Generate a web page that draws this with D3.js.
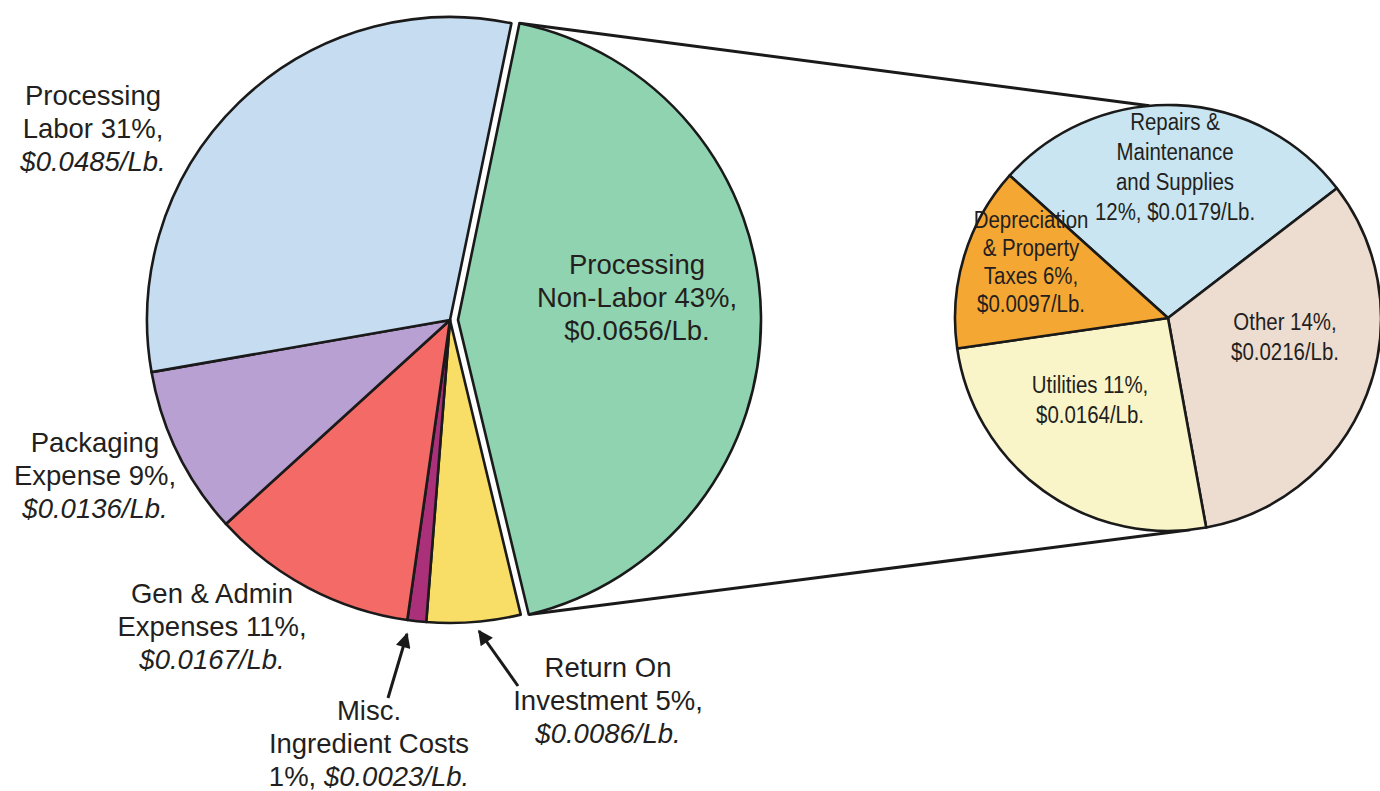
<!DOCTYPE html>
<html>
<head>
<meta charset="utf-8">
<script src="https://cdn.jsdelivr.net/npm/d3@7"></script>
<style>
  body { margin: 0; background: #fff; }
  svg { display: block; }
</style>
</head>
<body>
<svg id="chart" width="1380" height="791"></svg>
<script>
// main pie, clockwise starting with the pulled-out slice
var mainNames = ["Processing\nNon-Labor", "Return On\nInvestment", "Misc.\nIngredient Costs",
                 "Gen & Admin\nExpenses", "Packaging\nExpense", "Processing\nLabor"];
var mainPct = [43, 5, 1, 11, 9, 31];
var mainCost = ["$0.0656/Lb.", "$0.0086/Lb.", "$0.0023/Lb.", "$0.0167/Lb.", "$0.0136/Lb.", "$0.0485/Lb."];
var mainColors = ["#90d3b0", "#f8de66", "#a93079", "#f36a66", "#b9a0d2", "#c6dcf1"];

// breakdown of the non-labor slice
var subNames = ["Repairs &\nMaintenance\nand Supplies", "Other", "Utilities", "Depreciation\n& Property\nTaxes"];
var subPct = [12, 14, 11, 6];
var subCost = ["$0.0179/Lb.", "$0.0216/Lb.", "$0.0164/Lb.", "$0.0097/Lb."];
var subColors = ["#c8e5f1", "#eddcd0", "#faf5c9", "#f5a733"];

var deg = Math.PI / 180;
var mainPie = { cx: 450, cy: 320, r: 303, start: 11.7 * deg, explode: 8 };
var subPie = { cx: 1168, cy: 318, r: 213, start: -48 * deg };

// label anchors: x = centre, y = first baseline
var mainLabelPos = [
  { x: 637, y: 274, italic: false, pctWithCost: false },
  { x: 608, y: 677, italic: true, pctWithCost: false },
  { x: 369, y: 720, italic: true, pctWithCost: true },
  { x: 212, y: 603, italic: true, pctWithCost: false },
  { x: 95, y: 452, italic: true, pctWithCost: false },
  { x: 93, y: 105, italic: true, pctWithCost: false }
];
var subLabelPos = [
  { x: 1175, y: 130, lh: 30, pctWithCost: true },
  { x: 1285, y: 330, lh: 30, pctWithCost: false },
  { x: 1090, y: 393, lh: 30, pctWithCost: false },
  { x: 1031, y: 228, lh: 28, pctWithCost: false }
];
var arrows = [
  { from: [388, 698], to: [407, 634] },
  { from: [518, 686], to: [479, 631] }
];

var svg = d3.select("#chart");
var ink = "#1a1a1a";

var defs = svg.append("defs");
defs.append("marker")
  .attr("id", "head")
  .attr("viewBox", "0 0 10 10")
  .attr("refX", 9).attr("refY", 5)
  .attr("markerWidth", 5.5).attr("markerHeight", 5)
  .attr("markerUnits", "strokeWidth")
  .attr("orient", "auto")
  .append("path")
  .attr("d", "M0,0L10,5L0,10z")
  .attr("fill", ink);

function pointAt(c, a, r) {
  return [c.cx + r * Math.sin(a), c.cy - r * Math.cos(a)];
}

var mainArcs = d3.pie().sort(null).value(function(d) { return d; })
  .startAngle(mainPie.start).endAngle(mainPie.start + 2 * Math.PI)(mainPct);
var subArcs = d3.pie().sort(null).value(function(d) { return d; })
  .startAngle(subPie.start).endAngle(subPie.start + 2 * Math.PI)(subPct);

var mainArc = d3.arc().innerRadius(0).outerRadius(mainPie.r);
var subArc = d3.arc().innerRadius(0).outerRadius(subPie.r);

// offset of the exploded slice
var big = mainArcs[0];
var mid = (big.startAngle + big.endAngle) / 2;
var dx = mainPie.explode * Math.sin(mid), dy = -mainPie.explode * Math.cos(mid);

// connector lines from exploded slice to the breakdown pie
var shifted = { cx: mainPie.cx + dx, cy: mainPie.cy + dy };
var links = [
  [pointAt(shifted, big.startAngle, mainPie.r), pointAt(subPie, -5 * deg, subPie.r)],
  [pointAt(shifted, big.endAngle, mainPie.r), pointAt(subPie, 174 * deg, subPie.r)]
];
svg.append("g").selectAll("line")
  .data(links).join("line")
  .attr("x1", function(d) { return d[0][0]; })
  .attr("y1", function(d) { return d[0][1]; })
  .attr("x2", function(d) { return d[1][0]; })
  .attr("y2", function(d) { return d[1][1]; })
  .attr("stroke", ink).attr("stroke-width", 3);

// main pie
svg.append("g")
  .attr("transform", "translate(" + mainPie.cx + "," + mainPie.cy + ")")
  .selectAll("path")
  .data(mainArcs).join("path")
  .attr("d", mainArc)
  .attr("transform", function(d, i) { return i === 0 ? "translate(" + dx + "," + dy + ")" : null; })
  .attr("fill", function(d, i) { return mainColors[i]; })
  .attr("stroke", ink).attr("stroke-width", 2.6)
  .attr("stroke-linejoin", "round");

// breakdown pie
svg.append("g")
  .attr("transform", "translate(" + subPie.cx + "," + subPie.cy + ")")
  .selectAll("path")
  .data(subArcs).join("path")
  .attr("d", subArc)
  .attr("fill", function(d, i) { return subColors[i]; })
  .attr("stroke", ink).attr("stroke-width", 2.6)
  .attr("stroke-linejoin", "round");

// build label lines as [text, italic] pieces
function labelLines(name, pct, cost, opt) {
  var lines = name.split("\n").map(function(s) { return [[s, false]]; });
  if (opt.pctWithCost) {
    lines.push([[pct + "%, ", false], [cost, !!opt.italic]]);
  } else {
    lines[lines.length - 1][0][0] += " " + pct + "%,";
    lines.push([[cost, !!opt.italic]]);
  }
  return lines;
}

// sx squeezes the text horizontally (no narrow font installed)
function drawLabels(names, pcts, costs, pos, size, lh, sx) {
  var g = svg.append("g")
    .attr("font-family", "'Liberation Sans', Arial, sans-serif")
    .attr("font-size", size)
    .attr("fill", "#231f20")
    .attr("text-anchor", "middle");
  names.forEach(function(n, i) {
    var p = pos[i];
    var t = g.append("text")
      .attr("transform", "translate(" + p.x + "," + p.y + ") scale(" + sx + ",1)");
    labelLines(n, pcts[i], costs[i], p).forEach(function(line, j) {
      line.forEach(function(part, k) {
        var ts = t.append("tspan").text(part[0])
          .attr("font-style", part[1] ? "italic" : "normal");
        if (k === 0) ts.attr("x", 0).attr("dy", j === 0 ? 0 : (p.lh || lh));
      });
    });
  });
}

drawLabels(mainNames, mainPct, mainCost, mainLabelPos, 27.5, 33, 1);
drawLabels(subNames, subPct, subCost, subLabelPos, 23.5, 30, 0.87);

// pointer arrows for the two thin slices
svg.append("g").selectAll("line")
  .data(arrows).join("line")
  .attr("x1", function(d) { return d.from[0]; })
  .attr("y1", function(d) { return d.from[1]; })
  .attr("x2", function(d) { return d.to[0]; })
  .attr("y2", function(d) { return d.to[1]; })
  .attr("stroke", ink).attr("stroke-width", 3)
  .attr("marker-end", "url(#head)");
</script>
</body>
</html>
